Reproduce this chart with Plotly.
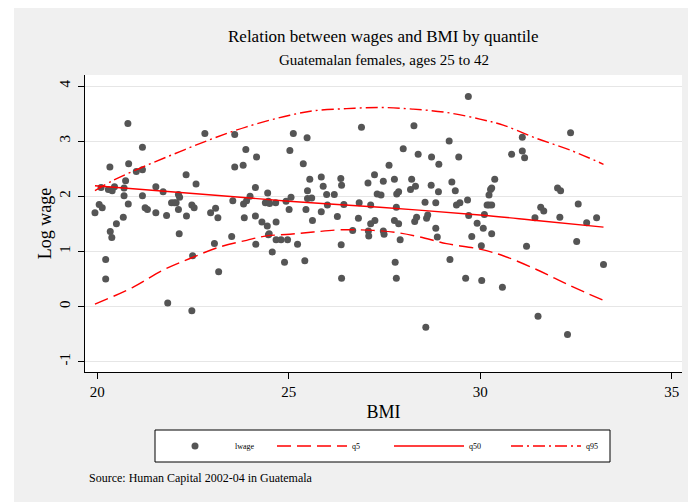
import plotly.graph_objects as go

# ── Datos ─────────────────────────────────────────────────────────────────────
bmi = [
    19.94, 20.05, 20.13, 20.10, 20.29, 20.39, 20.45, 20.33, 20.22, 20.22,
    20.34, 20.38, 20.50, 20.68, 20.70, 20.70, 20.74, 20.81, 20.82, 20.80,
    21.02, 21.18, 21.18, 21.18, 21.25, 21.31, 21.53, 21.53, 21.72, 21.81,
    21.84, 21.94, 22.01, 22.06, 22.12, 22.15, 22.12, 22.14, 22.32, 22.33,
    22.47, 22.53, 22.49, 22.47, 22.58, 22.81, 22.96, 23.09, 23.15, 23.06,
    23.17, 23.51, 23.54, 23.59, 23.59, 23.81, 23.88, 23.82, 23.84, 23.90,
    23.99, 24.16, 24.13, 24.13, 24.14, 24.30, 24.39, 24.44, 24.45, 24.47,
    24.50, 24.47, 24.49, 24.57, 24.67, 24.66, 24.67, 24.80, 24.89, 24.93,
    24.97, 25.01, 25.03,
    25.06, 25.12, 25.48, 25.38, 25.55, 25.49, 25.49, 25.60, 25.45, 25.62,
    25.23, 25.42, 25.85, 25.90, 25.99, 26.01, 25.85, 26.19, 26.36, 26.38,
    26.44, 26.27, 26.37, 26.38, 26.67, 26.84, 26.82, 26.90, 27.07, 27.14,
    27.14, 27.08, 27.09, 27.25, 27.24, 27.31, 27.41, 27.47, 27.47, 27.49,
    27.62, 27.76, 27.82, 27.87, 27.81, 27.76, 27.87, 27.91, 27.78, 27.81,
    27.99, 28.21, 28.18, 28.31, 28.27, 28.38, 28.34, 28.29, 28.56, 28.60,
    28.63, 28.58, 28.72, 28.73, 28.84, 28.92, 28.91, 28.84, 28.88, 29.19,
    29.26, 29.35, 29.44, 29.38, 29.47, 29.21, 29.69, 29.67, 29.70, 29.62,
    29.78, 29.92, 30.03, 30.04, 30.08, 30.11, 30.18, 30.23, 30.30,
    30.23, 30.30, 30.27, 30.30, 30.38, 30.58, 30.82, 31.10, 31.10, 31.16,
    31.21, 31.43, 31.51, 31.58, 31.66, 32.02, 32.10, 32.08, 32.28, 32.36,
    32.52, 32.56, 32.78, 33.04, 33.22,
]
lwage = [
    1.70, 1.85, 1.79, 2.16, 2.12, 2.10, 2.17, 2.53, 0.85, 0.50,
    1.36, 1.25, 1.50, 1.62, 2.15, 2.01, 2.28, 1.86, 2.59, 3.32,
    2.45, 2.48, 2.89, 2.01, 1.79, 1.76, 1.70, 2.17, 2.08, 1.65,
    0.06, 1.88, 1.88, 1.88, 2.03, 1.98, 1.76, 1.32, 2.39, 1.64,
    1.84, 1.79, 0.92, -0.08, 2.22, 3.14, 1.70, 1.78, 1.61, 1.14,
    0.63, 1.27, 1.92, 2.53, 3.12, 2.56, 2.85, 1.86, 1.61, 1.92,
    2.00, 2.71, 2.16, 1.64, 1.13, 1.53, 1.88, 1.46, 2.06, 1.91,
    1.87, 1.30, 1.32, 0.99, 1.53, 1.88, 1.21, 1.21, 0.80, 1.91,
    1.21, 1.76, 2.83,
    1.98, 3.14, 3.06, 2.59, 2.31, 2.10, 1.96, 1.97, 1.76, 1.56,
    1.13, 0.83, 2.35, 2.18, 2.03, 1.84, 1.72, 2.03, 2.32, 2.20,
    1.85, 1.63, 1.12, 0.51, 1.38, 1.88, 1.60, 3.25, 2.24, 1.84,
    1.50, 1.37, 1.28, 1.56, 2.39, 2.04, 2.02, 2.27, 1.37, 1.31,
    2.56, 2.31, 2.04, 2.08, 1.80, 1.56, 1.50, 1.21, 0.80, 0.51,
    2.86, 2.31, 2.12, 2.18, 3.28, 2.76, 1.62, 1.54, 1.89, 1.60,
    1.66, -0.38, 2.20, 2.71, 1.88, 2.58, 2.08, 1.42, 1.26, 3.00,
    2.26, 2.10, 2.71, 1.84, 1.88, 0.85, 3.81, 1.93, 1.65, 0.51,
    1.27, 1.51, 1.10, 0.47, 1.42, 1.67, 1.84, 2.02, 1.32,
    1.84, 1.84, 2.12, 2.15, 2.31, 0.35, 2.76, 3.07, 2.82, 2.70,
    1.09, 1.61, -0.18, 1.80, 1.73, 2.15, 2.10, 1.62, -0.51, 3.15,
    1.18, 1.86, 1.52, 1.61, 0.76,
]

q5_x = [19.94, 20.94, 21.72, 22.42, 23.20, 23.90, 24.42, 25.03, 25.64, 26.34,
        27.21, 27.82, 28.43, 29.12, 29.99, 30.60, 31.47, 32.34, 33.22]
q5_y = [0.04, 0.35, 0.66, 0.87, 1.08, 1.20, 1.28, 1.31, 1.35, 1.39,
        1.38, 1.34, 1.26, 1.14, 1.04, 0.92, 0.67, 0.38, 0.11]

q50_x = [19.94, 22.50, 25.00, 27.38, 29.99, 31.47, 33.22]
q50_y = [2.19, 2.05, 1.91, 1.80, 1.66, 1.56, 1.44]

q95_x = [19.94, 20.42, 21.29, 22.16, 23.03, 23.90, 25.03, 25.64, 26.51, 27.38,
         28.25, 29.12, 29.99, 30.60, 31.47, 32.34, 33.22]
q95_y = [2.10, 2.29, 2.56, 2.81, 3.05, 3.26, 3.47, 3.55, 3.59, 3.61,
         3.58, 3.52, 3.40, 3.29, 3.05, 2.84, 2.58]

x_ticks = [20, 25, 30, 35]
y_ticks = [-1, 0, 1, 2, 3, 4]
y_labels = ["-1", "0", "1", "2", "3", "4"]

FONT = "Liberation Serif, Times New Roman, serif"
RED = "#FF0000"
PW, PH = 597, 297  # tamaño del area de trazado en px

fig = go.Figure()

fig.add_trace(go.Scatter(
    x=bmi, y=lwage, mode="markers", name="lwage",
    marker=dict(color="#555555", size=7),
))
fig.add_trace(go.Scatter(
    x=q5_x, y=q5_y, mode="lines", name="q5", line_shape="spline",
    line=dict(color=RED, width=1.4, dash="14px,6px"),
))
fig.add_trace(go.Scatter(
    x=q50_x, y=q50_y, mode="lines", name="q50", line_shape="spline",
    line=dict(color=RED, width=1.4),
))
fig.add_trace(go.Scatter(
    x=q95_x, y=q95_y, mode="lines", name="q95", line_shape="spline",
    line=dict(color=RED, width=1.4, dash="12px,4px,2px,4px"),
))

fig.update_layout(
    width=688, height=494,
    margin=dict(l=77, r=14, t=67, b=130, autoexpand=False),
    paper_bgcolor="#F0F0F0",
    plot_bgcolor="white",
    font=dict(family=FONT, color="black"),
    showlegend=True,
    legend=dict(
        orientation="h", x=70 / PW, y=-74 / PH, xanchor="left", yanchor="middle",
        bgcolor="rgba(0,0,0,0)", borderwidth=0,
        font=dict(size=8, family=FONT, color="black"), entrywidth=32, itemwidth=70,
    ),
    xaxis=dict(
        range=[19.68, 35.27], tickvals=x_ticks, showgrid=False, zeroline=False,
        showline=True, linecolor="black", linewidth=1,
        ticks="outside", ticklen=6, tickcolor="black", ticklabelstandoff=0,
        tickfont=dict(size=15), title=dict(text="BMI", font=dict(size=18), standoff=6),
    ),
    yaxis=dict(
        range=[-1.19, 4.2], tickvals=y_ticks, ticktext=y_labels,
        showgrid=True, gridcolor="#E6E6E6",
        zeroline=False, showline=True, linecolor="black", linewidth=1,
        ticks="outside", ticklen=6, tickcolor="black", tickangle=-90,
        ticklabelstandoff=2,
        tickfont=dict(size=15), title=dict(text="Log wage", font=dict(size=18), standoff=0),
    ),
    shapes=[
        # franja blanca a la izquierda del cuadro
        dict(type="rect", xref="paper", yref="paper", layer="above",
             x0=-77 / PW, x1=-71 / PW, y0=-130 / PH, y1=1 + 67 / PH,
             fillcolor="white", line=dict(width=0)),
        # caja de la leyenda
        dict(type="rect", xref="paper", yref="paper", layer="below",
             x0=70 / PW, x1=525 / PW, y0=-58 / PH, y1=-90 / PH,
             fillcolor="white", line=dict(color="black", width=1)),
    ],
    annotations=[
        dict(text="Relation between wages and BMI by quantile", x=0.5, y=1 + 38 / PH,
             xref="paper", yref="paper", showarrow=False, yanchor="middle",
             font=dict(size=17)),
        dict(text="Guatemalan females, ages 25 to 42", x=0.5, y=1 + 15 / PH,
             xref="paper", yref="paper", showarrow=False, yanchor="middle",
             font=dict(size=15)),
        dict(text="Source: Human Capital 2002-04 in Guatemala", x=0.003, y=-106 / PH,
             xref="paper", yref="paper", showarrow=False, xanchor="left",
             yanchor="middle", font=dict(size=12)),
    ],
)

fig.write_html("out.html")
